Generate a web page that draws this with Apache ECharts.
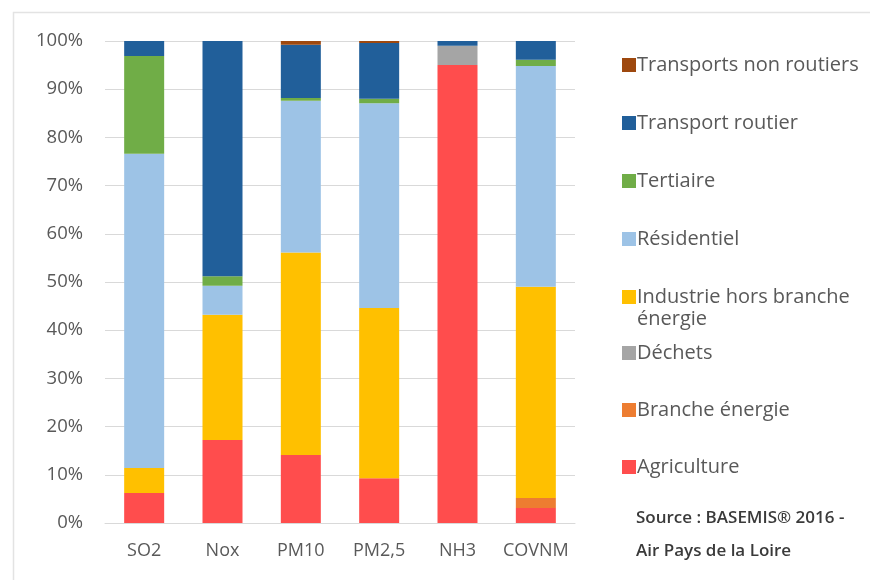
<!DOCTYPE html>
<html>
<head>
<meta charset="utf-8">
<script src="https://cdn.jsdelivr.net/npm/echarts@6/dist/echarts.min.js"></script>
<style>
  html, body { margin: 0; padding: 0; background: #fff; }
  #chart { width: 870px; height: 580px; }
</style>
</head>
<body>
<div id="chart"></div>
<script>
// Pollutants on the x axis
const categories = ['SO2', 'Nox', 'PM10', 'PM2,5', 'NH3', 'COVNM'];

// Share of emissions by sector (%), stacked bottom to top
const agriculture       = [6.2, 17.2, 14.1, 9.3, 95.0, 3.1];
const brancheEnergie    = [0, 0, 0, 0, 0, 2.1];
const dechets           = [0, 0, 0, 0, 4.0, 0];
const industrie         = [5.2, 26.0, 42.0, 35.3, 0, 43.8];
const residentiel       = [65.2, 6.0, 31.5, 42.5, 0, 45.8];
const tertiaire         = [20.3, 2.0, 0.6, 0.9, 0, 1.3];
const transportRoutier  = [3.1, 48.8, 11.0, 11.6, 1.0, 3.9];
const transportsNonRout = [0, 0, 0.8, 0.4, 0, 0];

const yTicks = [0, 10, 20, 30, 40, 50, 60, 70, 80, 90, 100];

const FONT = '"Open Sans", Lato, sans-serif';

const sectors = [
  { name: 'Agriculture', data: agriculture, color: '#FF4D4D' },
  { name: 'Branche énergie', data: brancheEnergie, color: '#ED7D31' },
  { name: 'Déchets', data: dechets, color: '#A5A5A5' },
  { name: 'Industrie hors branche énergie', data: industrie, color: '#FFC000' },
  { name: 'Résidentiel', data: residentiel, color: '#9DC3E6' },
  { name: 'Tertiaire', data: tertiaire, color: '#70AD47' },
  { name: 'Transport routier', data: transportRoutier, color: '#215F9A' },
  { name: 'Transports non routiers', data: transportsNonRout, color: '#9E480E' }
];

// Legend rows (vertical centre), listed top to bottom (reverse of the stack)
const legendTops = {
  'Transports non routiers': 64,
  'Transport routier': 122,
  'Tertiaire': 180,
  'Résidentiel': 238,
  'Industrie hors branche énergie': 296,
  'Déchets': 352,
  'Branche énergie': 409,
  'Agriculture': 466
};

const legends = sectors.map(s => ({
  data: [s.name],
  left: 617,
  top: legendTops[s.name] - 14,
  orient: 'vertical',
  itemWidth: 14,
  itemHeight: 14,
  itemGap: 0,
  icon: 'rect',
  selectedMode: false,
  formatter: n => n === 'Industrie hors branche énergie' ? 'Industrie hors branche' : n,
  textStyle: { fontFamily: FONT, fontSize: 20, color: '#595959', padding: [0, 0, 0, -4] }
}));

const chart = echarts.init(document.getElementById('chart'));
chart.setOption({
  backgroundColor: '#fff',
  animation: false,
  legend: legends,
  grid: { left: 105, right: 295, top: 41, bottom: 57, containLabel: false },
  xAxis: {
    type: 'category',
    data: categories,
    axisLine: { show: true, lineStyle: { color: '#d9d9d9', width: 1 } },
    axisTick: { show: false },
    axisLabel: { interval: 0, fontFamily: FONT, fontSize: 18, color: '#595959', margin: 19 }
  },
  yAxis: {
    type: 'value',
    min: yTicks[0],
    max: yTicks[yTicks.length - 1],
    interval: 10,
    axisLine: { show: false },
    axisTick: { show: false },
    splitLine: { lineStyle: { color: '#d9d9d9', width: 1 } },
    axisLabel: { fontFamily: FONT, fontSize: 18.5, color: '#595959', margin: 22, formatter: v => v + '%' }
  },
  series: sectors.map(s => ({
    name: s.name,
    type: 'bar',
    stack: 'total',
    barWidth: 40,
    data: s.data,
    itemStyle: { color: s.color },
    emphasis: { disabled: true }
  })),
  graphic: [
    {
      type: 'rect',
      silent: true,
      z: -1,
      shape: { x: 13.5, y: 12.5, width: 900, height: 600 },
      style: { fill: 'none', stroke: '#e3e3e3', lineWidth: 1.5 }
    },
    {
      type: 'text',
      left: 637,
      top: 309,
      style: { text: 'énergie', font: '20px ' + FONT, fill: '#595959' }
    },
    {
      type: 'text',
      left: 636,
      top: 510,
      style: { text: 'Source : BASEMIS® 2016 -', font: '600 17px ' + FONT, fill: '#3a3a3a' }
    },
    {
      type: 'text',
      left: 636,
      top: 543,
      style: { text: 'Air Pays de la Loire', font: '600 17px ' + FONT, fill: '#3a3a3a' }
    }
  ]
});
</script>
</body>
</html>
